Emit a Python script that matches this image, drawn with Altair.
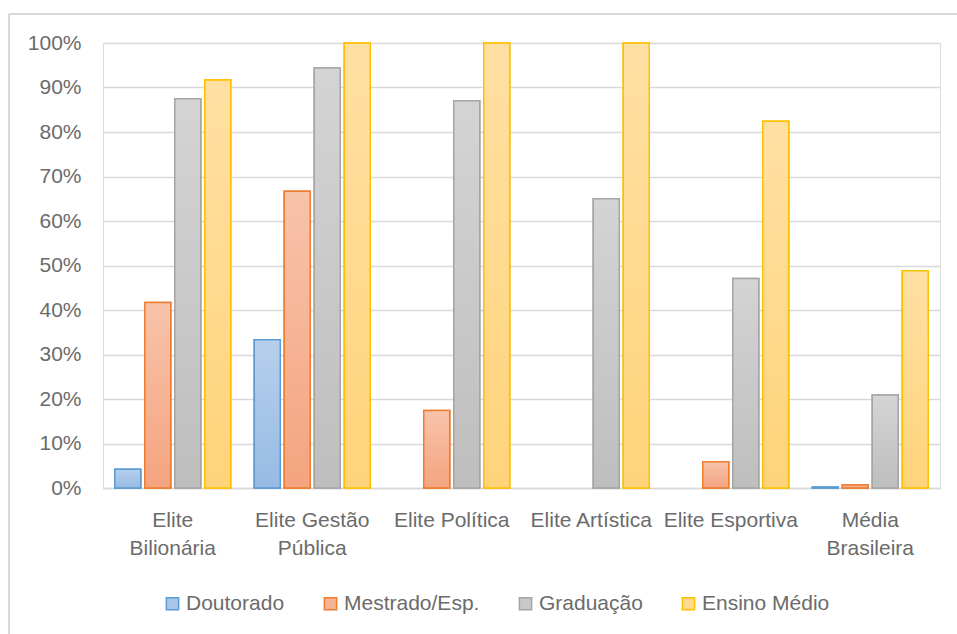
import altair as alt
import pandas as pd

categorias = ["Elite Bilionária", "Elite Gestão Pública", "Elite Política",
              "Elite Artística", "Elite Esportiva", "Média Brasileira"]
series = ["Doutorado", "Mestrado/Esp.", "Graduação", "Ensino Médio"]
doutorado = [4.2, 33.3, 0.0, 0.0, 0.0, 0.2]
mestrado = [41.7, 66.7, 17.4, 0.0, 5.9, 0.7]
graduacao = [87.5, 94.4, 87.0, 65.0, 47.1, 20.9]
ensino_medio = [91.7, 100.0, 100.0, 100.0, 82.4, 48.8]

valores = [doutorado, mestrado, graduacao, ensino_medio]
rows = []
for s, vals in zip(series, valores):
    for c, v in zip(categorias, vals):
        rows.append({"categoria": c, "serie": s, "valor": v})
df = pd.DataFrame(rows)

strokes = ["#5B9BD5", "#ED7D31", "#A5A5A5", "#FFC000"]
tops = ["#B7CFEC", "#F8C3AA", "#D4D4D4", "#FFE0A3"]
bottoms = ["#97BBE4", "#F4A47F", "#BEBEBE", "#FFD37A"]
mids = ["#A9C5E8", "#F6B495", "#C9C9C9", "#FFDA8F"]

FONT = "Liberation Sans"
TXT = "#6B6B6B"
GRID = "#D9D9D9"

x_enc = alt.X("categoria:N", scale=alt.Scale(domain=categorias, paddingInner=0.14, paddingOuter=0.07),
              axis=alt.Axis(title=None, ticks=False, domainColor=GRID, domainWidth=1.5,
                            labelFont=FONT, labelFontSize=21, labelColor=TXT, labelAngle=0,
                            labelPadding=21, labelLineHeight=28, labelOverlap=False, labelLimit=400,
                            labelExpr="datum.label == 'Elite Bilionária' ? ['Elite', 'Bilionária'] : "
                                      "datum.label == 'Elite Gestão Pública' ? ['Elite Gestão', 'Pública'] : "
                                      "datum.label == 'Média Brasileira' ? ['Média', 'Brasileira'] : datum.label"))
xo_enc = alt.XOffset("serie:N", scale=alt.Scale(domain=series, paddingInner=0.133, paddingOuter=0.0665))
y_enc = alt.Y("valor:Q", scale=alt.Scale(domain=[0, 100], nice=False),
              axis=alt.Axis(title=None, values=list(range(0, 101, 10)), ticks=False, domain=False,
                            gridColor=GRID, gridWidth=1.5, labelFont=FONT, labelFontSize=21,
                            labelColor=TXT, labelPadding=22, labelExpr="datum.value + '%'"))

base = alt.Chart(df).transform_filter("datum.valor > 0")

legend_layer = base.mark_bar(strokeWidth=1.5).encode(
    x=x_enc, xOffset=xo_enc, y=y_enc,
    fill=alt.Fill("serie:N", scale=alt.Scale(domain=series, range=mids),
                  legend=alt.Legend(title=None, orient="none", direction="horizontal",
                                    legendX=59, legendY=550, symbolType="square", symbolSize=150,
                                    symbolStrokeWidth=1.5, labelFont=FONT, labelFontSize=21,
                                    labelColor=TXT, labelOffset=3, columnPadding=35)),
    stroke=alt.Stroke("serie:N", scale=alt.Scale(domain=series, range=strokes), legend=None),
)

layers = [legend_layer]
for s, st, t, b in zip(series, strokes, tops, bottoms):
    grad = alt.Gradient(gradient="linear", x1=0, x2=0, y1=0, y2=1,
                        stops=[alt.GradientStop(color=t, offset=0), alt.GradientStop(color=b, offset=1)])
    layers.append(
        base.transform_filter(alt.datum.serie == s)
        .mark_bar(fill=grad, stroke=st, strokeWidth=1.5)
        .encode(x=x_enc, xOffset=xo_enc, y=y_enc)
    )

frame_left = alt.Chart(df).mark_rule(color=GRID, strokeWidth=1.5).encode(
    x=alt.value(-94), y=alt.value(-29), y2=alt.value(700))
frame_top = alt.Chart(df).mark_rule(color=GRID, strokeWidth=1.5).encode(
    x=alt.value(-94), x2=alt.value(900), y=alt.value(-29))

chart = alt.layer(*layers, frame_left, frame_top).properties(
    width=837, height=445,
    autosize=alt.AutoSizeParams(type="none"),
    padding={"left": 103, "top": 43, "right": 17, "bottom": 146},
).configure_view(stroke=None).configure(background="white")

chart.save("out.html", embed_options={"renderer": "svg", "actions": False})
